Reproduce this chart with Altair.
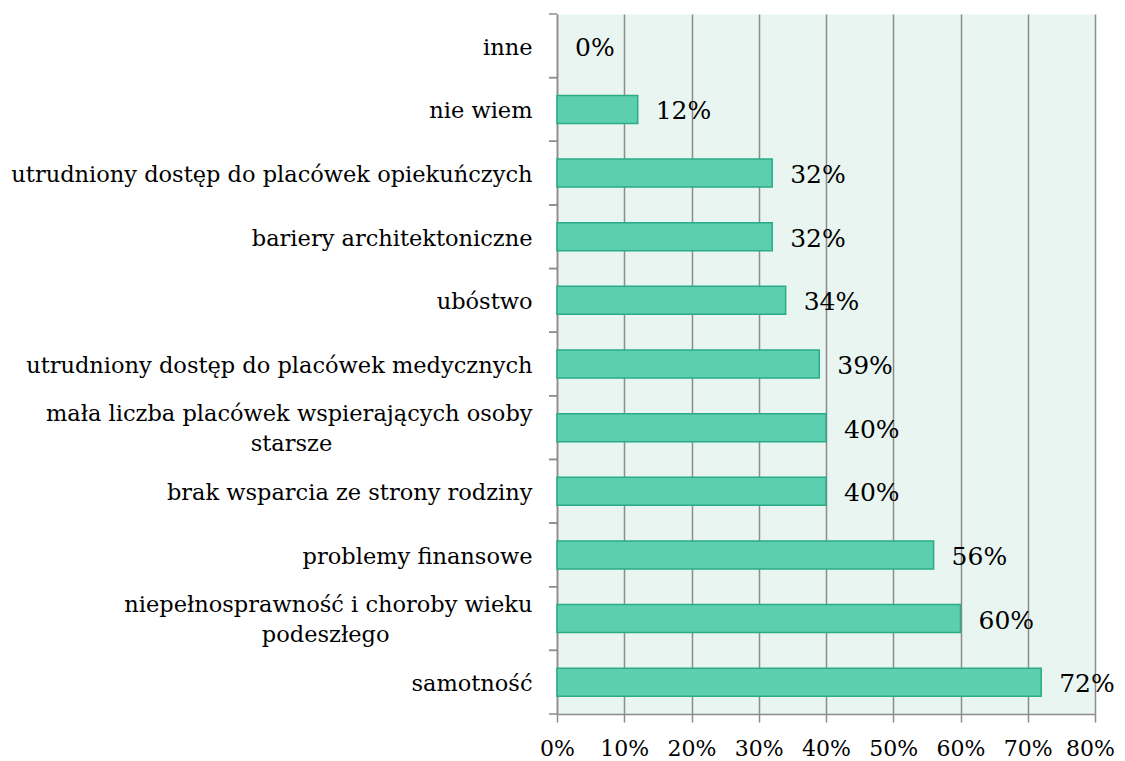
import altair as alt
import pandas as pd

categories = [
    "inne",
    "nie wiem",
    "utrudniony dostęp do placówek opiekuńczych",
    "bariery architektoniczne",
    "ubóstwo",
    "utrudniony dostęp do placówek medycznych",
    "mała liczba placówek wspierających osoby|starsze",
    "brak wsparcia ze strony rodziny",
    "problemy finansowe",
    "niepełnosprawność i choroby wieku|podeszłego",
    "samotność",
]
values = [0, 12, 32, 32, 34, 39, 40, 40, 56, 60, 72]
value_labels = ["0%", "12%", "32%", "32%", "34%", "39%", "40%", "40%", "56%", "60%", "72%"]
x_ticks = [0, 10, 20, 30, 40, 50, 60, 70, 80]

FONT = "DejaVu Serif"
GRAY = "#8c8c8c"
NBSP = "\u00a0"
ZWSP = "\u200b"

# second lines of wrapped labels are centred under the first line (padding with no-break spaces)
second_line_pad = {
    "mała liczba placówek wspierających osoby|starsze": 28,
    "niepełnosprawność i choroby wieku|podeszłego": 20,
}
display = [
    c + (NBSP * second_line_pad[c] + ZWSP if c in second_line_pad else "") for c in categories
]

df = pd.DataFrame({"cat": display, "value": values, "label": value_labels})

yscale = alt.Scale(paddingInner=0, paddingOuter=0)

y_enc = alt.Y(
    "cat:N",
    sort=display,
    scale=yscale,
    axis=alt.Axis(
        title=None,
        ticks=False,
        labelExpr="split(datum.label, '|')",
        labelPadding=25,
        labelFontSize=22.5,
        labelFont=FONT,
        labelColor="#000000",
        labelLimit=0,
        labelLineHeight=30,
        labelOffset={
            "condition": {"test": "indexof(datum.value, '|') >= 0", "value": -14},
            "value": 2,
        },
        domainColor=GRAY,
        domainWidth=1.5,
    ),
)

x_enc = alt.X(
    "value:Q",
    scale=alt.Scale(domain=[0, 80], nice=False, zero=True),
    axis=alt.Axis(
        title=None,
        values=x_ticks,
        labelExpr="datum.value + '%'",
        labelFont=FONT,
        labelFontSize=22,
        labelColor="#000000",
        labelPadding=16,
        labelOverlap=False,
        labelFlush=False,
        labelOffset={
            "condition": {"test": "datum.value >= 80", "value": -5},
            "value": 0,
        },
        tickSize=8,
        tickColor=GRAY,
        tickWidth=1.5,
        domainColor=GRAY,
        domainWidth=1.5,
        grid=True,
        gridColor=GRAY,
        gridWidth=1.5,
    ),
)

base = alt.Chart(df)

bars = base.mark_bar(
    height=alt.RelativeBandSize(band=0.44),
    fill="#5ccfb0",
    stroke="#2aaa85",
    strokeWidth=1.5,
).encode(
    x=x_enc,
    y=y_enc,
    strokeOpacity=alt.condition(alt.datum.value > 0, alt.value(1), alt.value(0)),
)

text = base.mark_text(
    align="left", baseline="middle", dx=18, dy=2, font=FONT, fontSize=25, color="#000000"
).encode(x="value:Q", y=alt.Y("cat:N", sort=display), text="label:N")

ticks_top = base.mark_rule(color=GRAY, strokeWidth=1.5).encode(
    y=alt.Y("cat:N", sort=display, bandPosition=0),
    x=alt.value(-8),
    x2=alt.value(0),
)
ticks_bot = base.mark_rule(color=GRAY, strokeWidth=1.5).encode(
    y=alt.Y("cat:N", sort=display, bandPosition=1),
    x=alt.value(-8),
    x2=alt.value(0),
)

chart = (
    alt.layer(bars, text, ticks_top, ticks_bot)
    .properties(
        width=538,
        height=700,
        autosize=alt.AutoSizeParams(type="none"),
        padding={"left": 549, "top": 6, "right": 22, "bottom": 45},
    )
    .configure_view(fill="#e9f5f1", stroke="transparent")
)

chart.save("out.html", embed_options={"renderer": "svg", "actions": False})
